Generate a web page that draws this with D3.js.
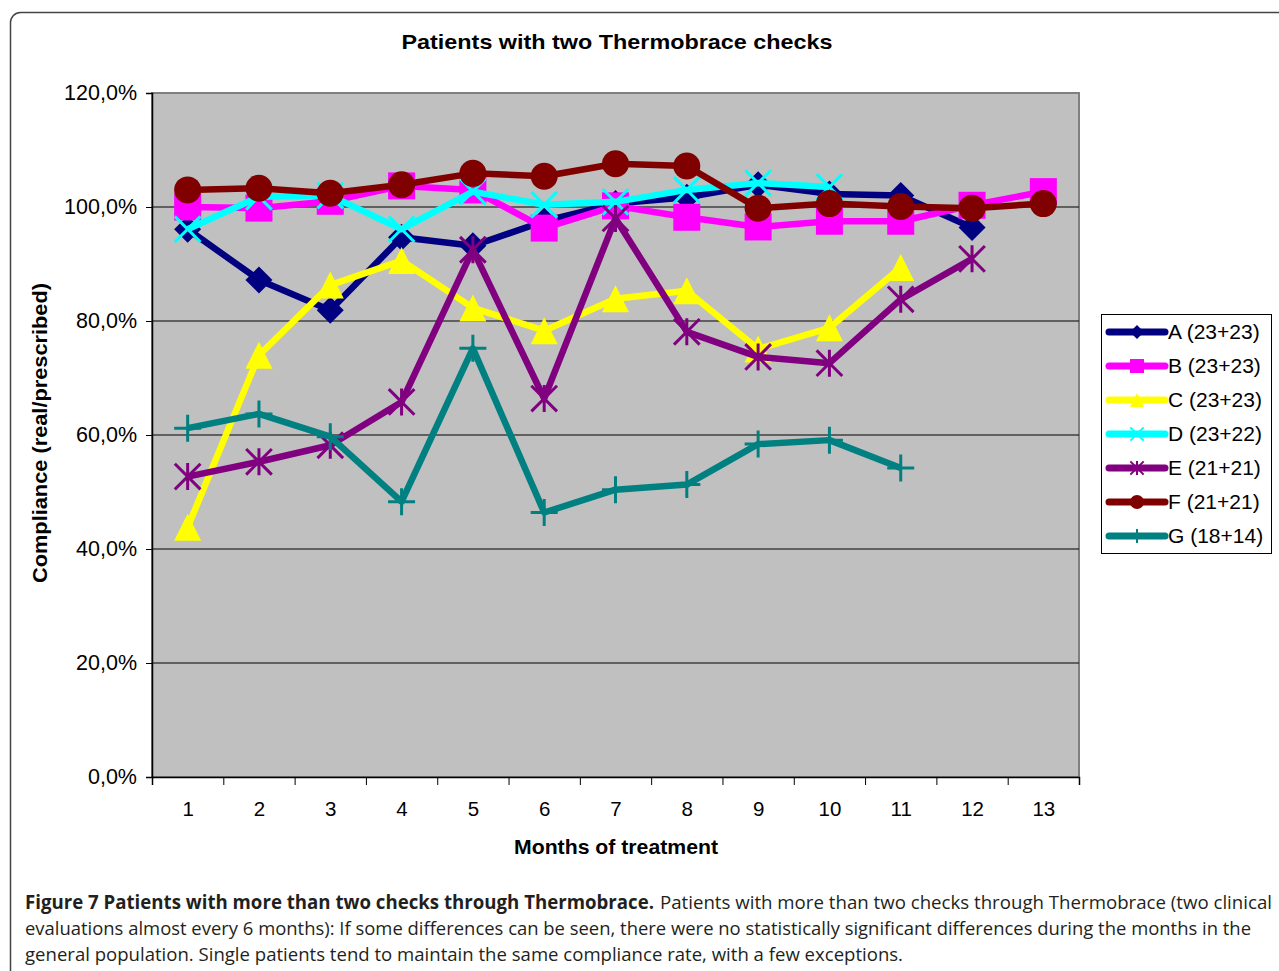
<!DOCTYPE html>
<html>
<head>
<meta charset="utf-8">
<script src="https://cdn.jsdelivr.net/npm/d3@7"></script>
<style>
  body { margin: 0; background: #fff; }
  svg { display: block; }
</style>
</head>
<body>
<script>
// months on the x axis
var months = [1, 2, 3, 4, 5, 6, 7, 8, 9, 10, 11, 12, 13];
var yTicks = [0, 20, 40, 60, 80, 100, 120];

// compliance in %, one array per patient (null = no check that month)
var seriesA = [96.1, 87.2, 81.9, 94.7, 93.2, 97.5, 100.6, 101.7, 103.9, 102.3, 102.0, 96.4, null];
var seriesB = [100.0, 99.8, 101.0, 103.7, 103.0, 96.3, 100.2, 98.2, 96.5, 97.5, 97.5, 100.3, 102.7];
var seriesC = [43.8, 74.0, 86.3, 90.6, 82.3, 78.3, 83.9, 85.3, 75.1, 78.8, 89.4, null, null];
var seriesD = [96.1, 101.8, 102.0, 96.1, 102.7, 100.4, 100.9, 103.0, 104.2, 103.5, null, null, null];
var seriesE = [52.7, 55.3, 58.2, 65.8, 92.5, 66.4, 98.0, 78.1, 73.7, 72.6, 83.8, 90.9, null];
var seriesF = [103.0, 103.3, 102.4, 103.9, 105.9, 105.4, 107.6, 107.2, 99.8, 100.6, 100.1, 99.8, 100.6];
var seriesG = [61.2, 63.7, 59.7, 48.3, 75.2, 46.4, 50.4, 51.3, 58.4, 59.1, 54.2, null, null];

var names = ["A (23+23)", "B (23+23)", "C (23+23)", "D (23+22)", "E (21+21)", "F (21+21)", "G (18+14)"];
var colors = ["#000080", "#ff00ff", "#ffff00", "#00ffff", "#800080", "#800000", "#008080"];
var markers = ["diamond", "square", "triangle", "cross", "star", "circle", "plus"];
var allSeries = [seriesA, seriesB, seriesC, seriesD, seriesE, seriesF, seriesG];

var width = 1279, height = 971;
var plotLeft = 152, plotRight = 1079, plotTop = 93, plotBottom = 777;
var font = "Liberation Sans, Arial, sans-serif";

var svg = d3.select("body").append("svg")
    .attr("width", width)
    .attr("height", height);

// outer frame of the figure
svg.append("rect")
    .attr("x", 10.5).attr("y", 12.5)
    .attr("width", 1400).attr("height", 1100)
    .attr("rx", 10)
    .attr("fill", "none")
    .attr("stroke", "#444")
    .attr("stroke-width", 1.5);

var x = d3.scaleLinear().domain([0.5, 13.5]).range([plotLeft, plotRight]);
var y = d3.scaleLinear().domain([0, 120]).range([plotBottom, plotTop]);

// plot area
svg.append("rect")
    .attr("x", plotLeft).attr("y", plotTop)
    .attr("width", plotRight - plotLeft).attr("height", plotBottom - plotTop)
    .attr("fill", "#c0c0c0")
    .attr("stroke", "#808080")
    .attr("stroke-width", 2);

svg.append("g").selectAll("line")
    .data(yTicks.filter(function (d) { return d > 0 && d < 120; }))
    .enter().append("line")
    .attr("x1", plotLeft).attr("x2", plotRight)
    .attr("y1", function (d) { return y(d); })
    .attr("y2", function (d) { return y(d); })
    .attr("stroke", "#000")
    .attr("stroke-width", 1);

// y axis
var yAxis = svg.append("g")
    .attr("transform", "translate(" + plotLeft + ",0)")
    .call(d3.axisLeft(y).tickValues(yTicks).tickSize(6).tickPadding(9)
        .tickFormat(function (d) { return d.toFixed(1).replace(".", ",") + "%"; }));
yAxis.select(".domain").attr("stroke", "#000").attr("stroke-width", 1.5);
yAxis.selectAll(".tick line").attr("stroke", "#000");
yAxis.selectAll("text").attr("font-family", font)
    .attr("font-size", 21.5).attr("fill", "#000");

// x axis: tick marks between categories, labels in the middle
var xAxis = svg.append("g")
    .attr("transform", "translate(0," + plotBottom + ")")
    .call(d3.axisBottom(x).tickValues(d3.range(0.5, 14, 1)).tickSize(8).tickFormat(""));
xAxis.select(".domain").attr("stroke", "#000").attr("stroke-width", 1.5);
xAxis.selectAll(".tick line").attr("stroke", "#000");

var xLabels = svg.append("g")
    .attr("transform", "translate(0," + plotBottom + ")")
    .call(d3.axisBottom(x).tickValues(months).tickSize(0).tickPadding(24));
xLabels.select(".domain").remove();
xLabels.selectAll("text").attr("font-family", font)
    .attr("font-size", 20.5).attr("fill", "#000");

// titles
svg.append("text")
    .attr("x", 617).attr("y", 49)
    .attr("text-anchor", "middle")
    .attr("font-family", font)
    .attr("font-weight", "bold").attr("font-size", 21)
    .attr("textLength", 431).attr("lengthAdjust", "spacingAndGlyphs")
    .text("Patients with two Thermobrace checks");

svg.append("text")
    .attr("x", 616).attr("y", 854)
    .attr("text-anchor", "middle")
    .attr("font-family", font)
    .attr("font-weight", "bold").attr("font-size", 21)
    .attr("textLength", 204).attr("lengthAdjust", "spacingAndGlyphs")
    .text("Months of treatment");

svg.append("text")
    .attr("transform", "translate(47,433) rotate(-90)")
    .attr("text-anchor", "middle")
    .attr("font-family", font)
    .attr("font-weight", "bold").attr("font-size", 21)
    .attr("textLength", 300).attr("lengthAdjust", "spacingAndGlyphs")
    .text("Compliance (real/prescribed)");

// marker drawing
function drawMarker(sel, type, color, s) {
    var h = s / 2;
    if (type === "diamond") {
        sel.append("path").attr("d", "M0," + (-h) + "L" + h + ",0L0," + h + "L" + (-h) + ",0Z").attr("fill", color);
    } else if (type === "square") {
        sel.append("rect").attr("x", -h).attr("y", -h).attr("width", s).attr("height", s).attr("fill", color);
    } else if (type === "triangle") {
        sel.append("path").attr("d", "M0," + (-h) + "L" + h + "," + h + "L" + (-h) + "," + h + "Z").attr("fill", color);
    } else if (type === "circle") {
        sel.append("circle").attr("r", h).attr("fill", color);
    } else {
        var sw = s > 15 ? 3 : 2;
        var k = h * 0.95;
        var d = "";
        if (type === "cross" || type === "star") {
            d += "M" + (-k) + "," + (-k) + "L" + k + "," + k + "M" + (-k) + "," + k + "L" + k + "," + (-k);
        }
        if (type === "star") d += "M0," + (-h) + "L0," + h;
        if (type === "plus") d += "M" + (-h) + ",0L" + h + ",0M0," + (-h) + "L0," + h;
        sel.append("path").attr("d", d).attr("fill", "none").attr("stroke", color).attr("stroke-width", sw);
    }
}

var line = d3.line()
    .defined(function (d) { return d != null; })
    .x(function (d, i) { return x(months[i]); })
    .y(function (d) { return y(d); });

allSeries.forEach(function (values, si) {
    var g = svg.append("g");
    g.append("path")
        .attr("d", line(values))
        .attr("fill", "none")
        .attr("stroke", colors[si])
        .attr("stroke-width", 6.5)
        .attr("stroke-linejoin", "round");
    values.forEach(function (v, i) {
        if (v == null) return;
        var m = g.append("g").attr("transform", "translate(" + x(months[i]) + "," + y(v) + ")");
        drawMarker(m, markers[si], colors[si], 27);
    });
});

// legend
var legend = svg.append("g").attr("transform", "translate(1101,314)");
legend.append("rect")
    .attr("x", 0.5).attr("y", 0.5)
    .attr("width", 170).attr("height", 239)
    .attr("fill", "#fff").attr("stroke", "#000").attr("stroke-width", 1);

names.forEach(function (name, i) {
    var row = legend.append("g").attr("transform", "translate(0," + (18 + i * 34) + ")");
    row.append("line")
        .attr("x1", 8).attr("x2", 64)
        .attr("stroke", colors[i]).attr("stroke-width", 7)
        .attr("stroke-linecap", "round");
    drawMarker(row.append("g").attr("transform", "translate(36,0)"), markers[i], colors[i], 14);
    row.append("text")
        .attr("x", 67).attr("y", 7)
        .attr("font-family", font)
        .attr("font-size", 21)
        .text(name);
});

// caption
var cap = svg.append("g").attr("fill", "#231f20").attr("font-family", "Open Sans, sans-serif").attr("font-size", 19);
cap.append("text").attr("x", 25).attr("y", 909)
    .attr("font-weight", "bold")
    .attr("textLength", 629).attr("lengthAdjust", "spacingAndGlyphs")
    .text("Figure 7 Patients with more than two checks through Thermobrace.");
cap.append("text").attr("x", 660).attr("y", 909)
    .attr("textLength", 612).attr("lengthAdjust", "spacingAndGlyphs")
    .text("Patients with more than two checks through Thermobrace (two clinical");
cap.append("text").attr("x", 25).attr("y", 935)
    .attr("textLength", 1226).attr("lengthAdjust", "spacingAndGlyphs")
    .text("evaluations almost every 6 months): If some differences can be seen, there were no statistically significant differences during the months in the");
cap.append("text").attr("x", 25).attr("y", 961)
    .attr("textLength", 878).attr("lengthAdjust", "spacingAndGlyphs")
    .text("general population. Single patients tend to maintain the same compliance rate, with a few exceptions.");
</script>
</body>
</html>
